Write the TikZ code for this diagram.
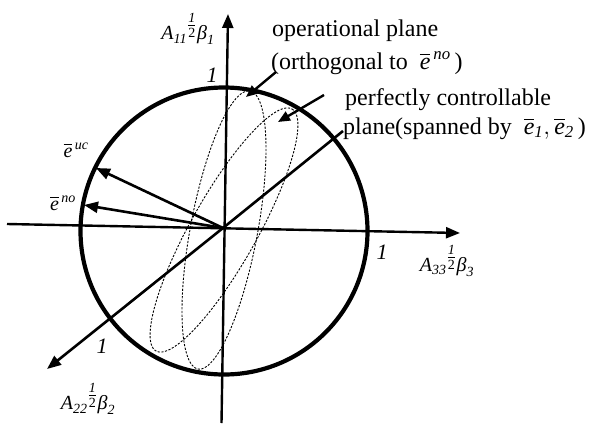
\documentclass[tikz,border=0pt]{standalone}
\usepackage{amsmath}
\usepackage{fontspec}
\setmainfont{Liberation Serif}
\usetikzlibrary{arrows.meta}
\newcommand\ti[1]{\text{\itshape #1}}
\newcommand\eb{\overline{\ti{e}}}
\newcommand\hf{{}^{\tfrac{\ti{1}}{\text{2}}}}
\begin{document}
\begin{tikzpicture}[x=1pt,y=-1pt,
  axisline/.style={line width=2.4pt,-{Triangle[length=14pt,width=11pt]}},
  vecline/.style={line width=2.6pt,-{Triangle[length=14pt,width=11pt]}},
  ptrline/.style={line width=2.4pt,-{Triangle[length=12pt,width=10pt]}},
  dashline/.style={line width=0.9pt,dash pattern=on 2.2pt off 1.5pt},
  lbl/.style={inner sep=0pt,font=\fontsize{20}{23}\selectfont},
  onelbl/.style={inner sep=0pt,font=\fontsize{22}{24}\selectfont\itshape},
  txt/.style={inner sep=0pt,anchor=base west,font=\fontsize{24}{27}\selectfont}]
\useasboundingbox (0,0) rectangle (591,423);
% coordinates
\coordinate (O) at (223,228);
\coordinate (C) at (224,231);
\coordinate (vb) at (221.5,423);
\coordinate (vt) at (228,14);
\coordinate (hl) at (7,224);
\coordinate (hr) at (460,233);
\coordinate (dr) at (343,131);
\coordinate (dl) at (47,369);
\coordinate (euc) at (96,168);
\coordinate (eno) at (84,205);
% dashed ellipses (planes)
\draw[dashline] plot[smooth,samples=120,domain=0:360,variable=\t]
  ({224+26*cos(\t)+33*sin(\t)},{230-139*cos(\t)+6.2*sin(\t)});
\draw[dashline] plot[smooth,samples=120,domain=0:360,variable=\t]
  ({224+68*cos(\t)+29*sin(\t)},{230-121*cos(\t)+16.3*sin(\t)});
% circle
\draw[line width=4.2pt] (C) circle [radius=143.5];
% axes
\draw[axisline] (vb) -- (vt);
\draw[axisline] (hl) -- (hr);
\draw[line width=2.6pt] (O) -- (dr);
\draw[axisline,line width=2.6pt] (O) -- (dl);
% vectors
\draw[vecline] (O) -- (euc);
\draw[vecline] (O) -- (eno);
% labels
\node[lbl] (a1) at (188,29) {$\ti{A}_{\ti{11}}\hf\ti{β}_{\ti{1}}$};
\node[lbl] (a3) at (447,261) {$\ti{A}_{\ti{33}}\hf\ti{β}_{\ti{3}}$};
\node[lbl] (a2) at (88,399) {$\ti{A}_{\ti{22}}\hf\ti{β}_{\ti{2}}$};
\node[onelbl] (o1) at (212,75) {1};
\node[onelbl] (o3) at (382,252) {1};
\node[onelbl] (o2) at (102,346) {1};
\node[lbl] (luc) at (76,150) {$\eb^{\,\ti{uc}}$};
\node[lbl] (lno) at (63,203) {$\eb^{\,\ti{no}}$};
% texts
\node[txt] (t1) at (272,36) {operational plane};
\node[txt] (t2) at (271,69) {(orthogonal to \ $\eb^{\,\ti{no}}$\,)};
\node[txt] (t3) at (345,105) {perfectly controllable};
\node[txt] (t4) at (343,134) {plane(spanned by \ $\eb_{\ti{1}},\eb_{\ti{2}}$\,)};
% pointers
\coordinate (p1s) at (276,72);
\coordinate (p1e) at (246,97);
\coordinate (p2s) at (324,95);
\coordinate (p2e) at (278,122);
\draw[ptrline] (p1s) -- (p1e);
\draw[ptrline] (p2s) -- (p2e);
\end{tikzpicture}
\end{document}
